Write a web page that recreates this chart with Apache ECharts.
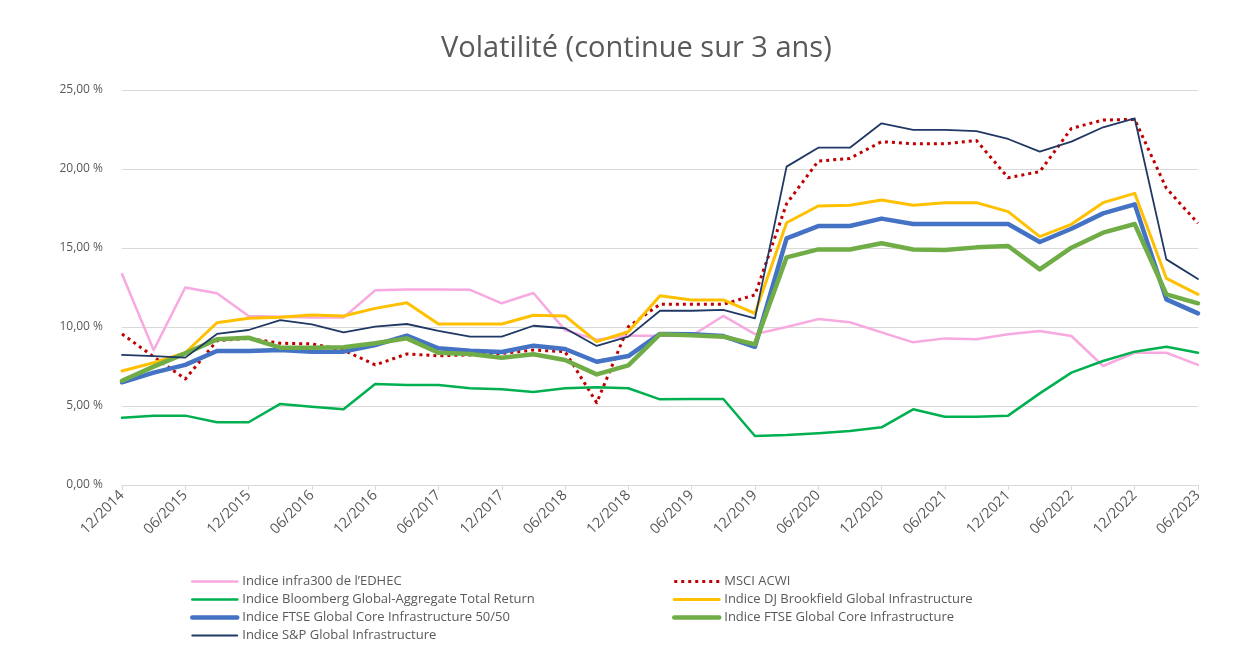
<!DOCTYPE html>
<html>
<head>
<meta charset="utf-8">
<script src="https://cdn.jsdelivr.net/npm/echarts@6/dist/echarts.min.js"></script>
<style>
html,body{margin:0;padding:0;background:#fff;}
#chart{width:1241px;height:672px;}
</style>
</head>
<body>
<div id="chart"></div>
<script>
const categories = ["12/2014","03/2015","06/2015","09/2015","12/2015","03/2016","06/2016","09/2016","12/2016","03/2017","06/2017","09/2017","12/2017","03/2018","06/2018","09/2018","12/2018","03/2019","06/2019","09/2019","12/2019","03/2020","06/2020","09/2020","12/2020","03/2021","06/2021","09/2021","12/2021","03/2022","06/2022","09/2022","12/2022","03/2023","06/2023"];

const infra300 = [13.35,8.54,12.5,12.13,10.7,10.65,10.6,10.6,12.32,12.38,12.38,12.35,11.5,12.15,9.8,9.2,9.45,9.45,9.45,10.7,9.55,10.0,10.5,10.3,9.66,9.03,9.28,9.22,9.54,9.75,9.43,7.53,8.37,8.37,7.6];
const msciAcwi = [9.56,8.12,6.71,9.13,9.28,8.97,8.93,8.54,7.6,8.29,8.18,8.23,8.33,8.54,8.44,5.21,10.02,11.44,11.44,11.44,12.03,17.8,20.5,20.67,21.73,21.6,21.6,21.8,19.45,19.83,22.57,23.1,23.14,18.78,16.56];
const bloomberg = [4.26,4.39,4.39,3.97,3.97,5.13,4.96,4.79,6.39,6.33,6.33,6.12,6.06,5.89,6.12,6.18,6.12,5.42,5.44,5.44,3.1,3.16,3.27,3.42,3.65,4.79,4.32,4.32,4.39,5.8,7.11,7.85,8.44,8.75,8.37];
const djBrookfield = [7.22,7.74,8.37,10.27,10.55,10.61,10.76,10.7,11.18,11.54,10.19,10.19,10.19,10.74,10.7,9.07,9.7,11.98,11.71,11.71,10.86,16.6,17.66,17.7,18.04,17.7,17.87,17.87,17.3,15.72,16.5,17.87,18.46,13.08,12.07];
const ftse5050 = [6.5,7.11,7.6,8.48,8.48,8.54,8.44,8.44,8.86,9.45,8.65,8.5,8.42,8.82,8.61,7.8,8.16,9.56,9.54,9.43,8.75,15.61,16.39,16.39,16.86,16.52,16.52,16.52,16.52,15.38,16.22,17.19,17.76,11.75,10.86];
const ftseCore = [6.6,7.49,8.33,9.22,9.32,8.69,8.69,8.72,8.97,9.28,8.37,8.29,8.06,8.27,7.91,7.0,7.57,9.54,9.47,9.39,8.9,14.41,14.91,14.91,15.3,14.91,14.87,15.04,15.13,13.65,15.02,15.97,16.52,12.07,11.5];
const spGlobal = [8.23,8.16,8.06,9.56,9.81,10.44,10.17,9.66,10.02,10.19,9.75,9.39,9.39,10.08,9.92,8.8,9.39,11.03,11.03,11.08,10.55,20.15,21.35,21.35,22.89,22.47,22.47,22.4,21.9,21.1,21.73,22.64,23.2,14.28,13.04];

const yTicks = [0,5,10,15,20,25];
const names = ["Indice infra300 de l’EDHEC","MSCI ACWI","Indice Bloomberg Global-Aggregate Total Return","Indice DJ Brookfield Global Infrastructure","Indice FTSE Global Core Infrastructure 50/50","Indice FTSE Global Core Infrastructure","Indice S&P Global Infrastructure"];

const chart = echarts.init(document.getElementById('chart'));
const font = "'Open Sans', 'Noto Sans', sans-serif";
const widths = [2.5, 3, 2.5, 3, 4.5, 4.5, 1.8];
function line(i, data, color, type) {
  return {
    name: names[i], type: 'line', data, symbol: 'none', smooth: false,
    lineStyle: {color, width: widths[i], type: type || 'solid', cap: type ? 'butt' : 'round', join: 'round'},
    itemStyle: {color},
    emphasis: {disabled: true}
  };
}
const legendText = {color: '#595959', fontSize: 13, fontFamily: font};
function legendItems(idx) {
  return idx.map(i => ({name: names[i], itemStyle: {opacity: 0}, lineStyle: {width: widths[i]}}));
}
chart.setOption({
  animation: false,
  backgroundColor: '#fff',
  title: {
    text: 'Volatilité (continue sur 3 ans)',
    left: 436, top: 29,
    textStyle: {color: '#595959', fontSize: 29, fontWeight: 'normal', fontFamily: font}
  },
  legend: [
    {data: legendItems([0, 2, 4, 6]), orient: 'vertical', left: 185, top: 570,
     itemWidth: 45, itemHeight: 14, itemGap: 5, textStyle: legendText, selectedMode: false},
    {data: legendItems([1, 3, 5]), orient: 'vertical', left: 667, top: 570,
     itemWidth: 45, itemHeight: 14, itemGap: 5, textStyle: legendText, selectedMode: false}
  ],
  grid: {left: 122, right: 43, top: 90, bottom: 187},
  xAxis: {
    type: 'category', data: categories, boundaryGap: false,
    axisLine: {lineStyle: {color: '#d9d9d9'}},
    axisTick: {show: true, interval: 1, length: 5, lineStyle: {color: '#d9d9d9'}},
    axisLabel: {interval: 1, rotate: 45, color: '#595959', fontSize: 14.5, fontFamily: font, margin: 8}
  },
  yAxis: {
    type: 'value', min: yTicks[0], max: yTicks[yTicks.length-1], interval: 5,
    axisLine: {show: false}, axisTick: {show: false},
    splitLine: {lineStyle: {color: '#d9d9d9', width: 1}},
    axisLabel: {color: '#595959', fontSize: 12, fontFamily: font, margin: 19,
      formatter: v => v.toFixed(2).replace('.', ',') + ' %'}
  },
  series: [
    line(0, infra300, '#F7A9E0'),
    line(1, msciAcwi, '#C00000', [3, 4]),
    line(2, bloomberg, '#00B050'),
    line(3, djBrookfield, '#FFC000'),
    line(4, ftse5050, '#4472C4'),
    line(5, ftseCore, '#70AD47'),
    line(6, spGlobal, '#203864')
  ]
});
</script>
</body>
</html>
